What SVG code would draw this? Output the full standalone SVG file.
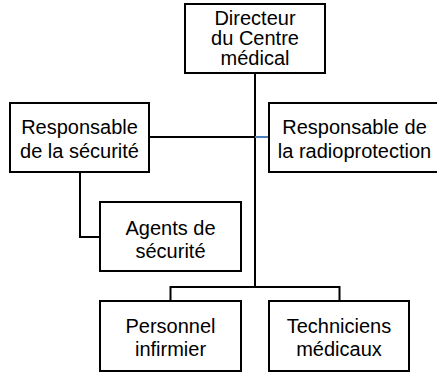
<svg xmlns="http://www.w3.org/2000/svg" width="437" height="373" viewBox="0 0 437 373">
<style>
.box{fill:#fff;stroke:#000;stroke-width:2}
.lbl{font-family:"Liberation Sans",Arial,sans-serif;font-size:20px;fill:#000;text-anchor:middle}
.ln{fill:none;stroke:#000;stroke-width:2}
.blue{fill:none;stroke:#4a7ebb;stroke-width:2}
</style>
<rect width="437" height="373" fill="#fff"/>
<g id="connectors">
<path class="ln" d="M255,73 V287"/>
<path class="ln" d="M149,137 H255"/>
<path class="blue" d="M255,137 H269"/>
<path class="ln" d="M80,172 V237 H100"/>
<path class="ln" d="M170.5,301 V287 H339.5 V301"/>
</g>
<g id="directeur">
<rect class="box" x="185" y="4" width="140" height="69"/>
<text class="lbl" x="255" y="24.5">Directeur</text>
<text class="lbl" x="255" y="44.5">du Centre</text>
<text class="lbl" x="255" y="64.5">médical</text>
</g>
<g id="resp-securite">
<rect class="box" x="10" y="103" width="139" height="69"/>
<text class="lbl" x="79.5" y="134">Responsable</text>
<text class="lbl" x="79.5" y="158">de la sécurité</text>
</g>
<g id="resp-radio">
<rect class="box" x="269" y="103" width="171" height="69"/>
<text class="lbl" x="354.5" y="134">Responsable de</text>
<text class="lbl" x="354.5" y="158">la radioprotection</text>
</g>
<g id="agents">
<rect class="box" x="100" y="202" width="141" height="69"/>
<text class="lbl" x="170.5" y="235">Agents de</text>
<text class="lbl" x="170.5" y="258">sécurité</text>
</g>
<g id="personnel">
<rect class="box" x="100" y="301" width="141" height="70"/>
<text class="lbl" x="170.5" y="333">Personnel</text>
<text class="lbl" x="170.5" y="356">infirmier</text>
</g>
<g id="techniciens">
<rect class="box" x="269" y="301" width="140" height="70"/>
<text class="lbl" x="339" y="333">Techniciens</text>
<text class="lbl" x="339" y="356">médicaux</text>
</g>
</svg>
